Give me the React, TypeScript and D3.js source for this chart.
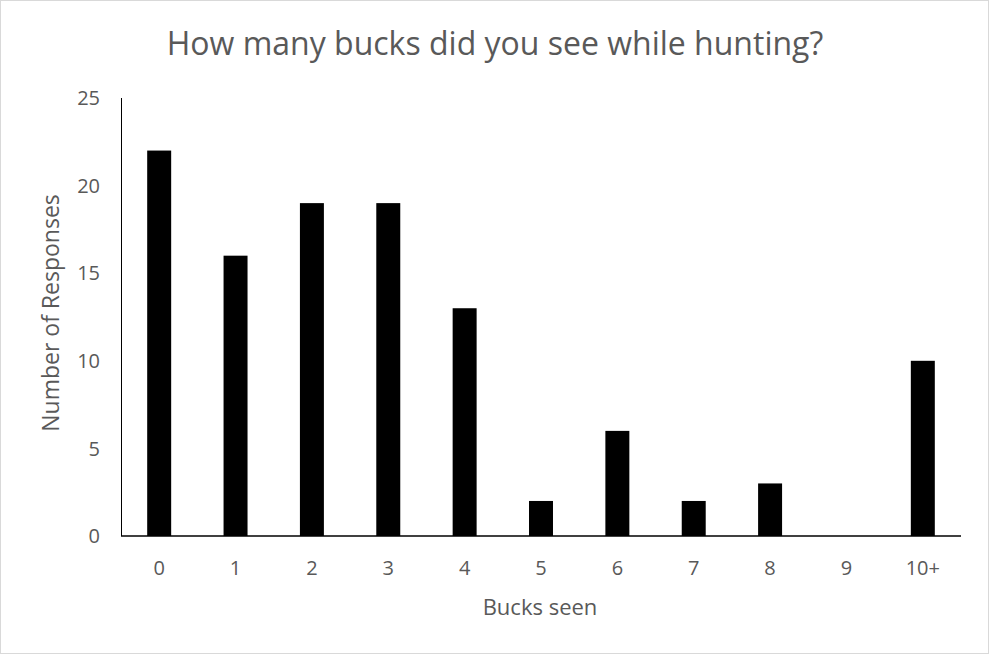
import React from "react";
import * as d3 from "d3";

const categories = ["0", "1", "2", "3", "4", "5", "6", "7", "8", "9", "10+"];
const responses = [22, 16, 19, 19, 13, 2, 6, 2, 3, 0, 10];
const yTicks = [0, 5, 10, 15, 20, 25];

const title = "How many bucks did you see while hunting?";
const xTitle = "Bucks seen";
const yTitle = "Number of Responses";

export default function App() {
  const width = 990;
  const height = 655;
  const margin = { top: 98, right: 29, bottom: 119, left: 121 };
  const font = "'Open Sans', sans-serif";
  const grey = "#595959";
  const tickSize = 20;

  const x = d3
    .scaleBand<string>()
    .domain(categories)
    .range([margin.left, width - margin.right])
    .paddingInner(0.686)
    .paddingOuter(0.343);

  const y = d3
    .scaleLinear()
    .domain([0, 25])
    .range([height - margin.bottom, margin.top]);

  const baseY = y(0);

  return (
    <svg
      width={width}
      height={height}
      style={{ position: "absolute", left: 0, top: 0, background: "#fff" }}
      fontFamily={font}
    >
      <rect x={0.5} y={0.5} width={width - 2} height={height - 2} fill="#fff" stroke="#d9d9d9" />
      <text x={495} y={55} textAnchor="middle" fontSize={32} fill={grey}>
        {title}
      </text>

      {/* y axis */}
      <line x1={margin.left + 0.5} x2={margin.left + 0.5} y1={y(25)} y2={baseY} stroke="#000" strokeWidth={1} />
      {yTicks.map((t) => (
        <text key={t} x={100} y={y(t) + tickSize * 0.36} textAnchor="end" fontSize={tickSize} fill={grey}>
          {t}
        </text>
      ))}

      {/* bars */}
      {categories.map((c, i) => (
        <rect
          key={c}
          x={x(c)}
          y={y(responses[i])}
          width={x.bandwidth()}
          height={baseY - y(responses[i])}
          fill="#000"
        />
      ))}

      {/* x axis */}
      <line x1={margin.left} x2={width - margin.right} y1={baseY} y2={baseY} stroke="#000" strokeWidth={1.5} />
      {categories.map((c) => (
        <text
          key={c}
          x={(x(c) ?? 0) + x.bandwidth() / 2}
          y={568 + tickSize * 0.36}
          textAnchor="middle"
          fontSize={tickSize}
          fill={grey}
        >
          {c}
        </text>
      ))}

      <text x={540} y={615} textAnchor="middle" fontSize={22} fill={grey}>
        {xTitle}
      </text>
      <text
        transform={`translate(59,313) rotate(-90)`}
        textAnchor="middle"
        fontSize={23}
        fill={grey}
      >
        {yTitle}
      </text>
    </svg>
  );
}
